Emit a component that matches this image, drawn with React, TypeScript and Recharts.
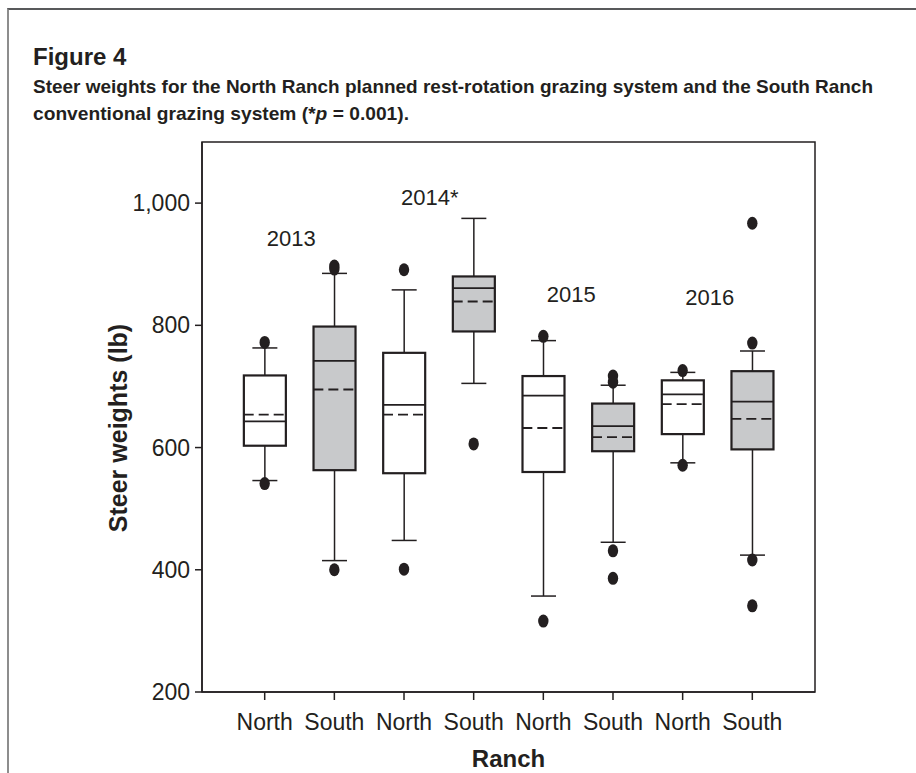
import React from 'react';
import { ComposedChart, Bar, Scatter, XAxis, YAxis, ReferenceArea, Label } from 'recharts';

// ticks / groups
const ranchTicks = ['North', 'South', 'North', 'South', 'North', 'South', 'North', 'South'];
const years = ['2013', '2014*', '2015', '2016'];
const yTicks = [200, 400, 600, 800, 1000];

// box statistics per box, lb
const whiskerLow = [546, 415, 448, 705, 357, 445, 575, 424];
const q1 = [603, 563, 558, 790, 560, 594, 622, 597];
const medians = [643, 742, 670, 861, 685, 635, 687, 675];
const means = [654, 695, 654, 839, 632, 617, 671, 647];
const q3 = [718, 798, 755, 880, 717, 672, 710, 725];
const whiskerHigh = [763, 885, 858, 975, 775, 702, 723, 758];
const outliers = [
  [772, 541],
  [897, 892, 400],
  [891, 401],
  [606],
  [782, 316],
  [717, 707, 431, 386],
  [726, 571],
  [967, 771, 416, 341],
];

// where the year captions sit, in data units
const yearLabelX = [1.38, 3.37, 5.4, 7.39];
const yearLabelY = [942, 1009, 850, 846];

const INK = '#231f20';
const FONT = "'Liberation Sans', Arial, sans-serif";
const BOX_W = 42;
const CAP_W = 25;

const rows = ranchTicks.map((r, i) => ({
  x: i + 1,
  ranch: r,
  south: r === 'South',
  base: whiskerLow[i],
  lowW: q1[i] - whiskerLow[i],
  box: q3[i] - q1[i],
  highW: whiskerHigh[i] - q3[i],
  median: medians[i],
  mean: means[i],
}));

const outlierPoints = outliers.flatMap((vals, i) => vals.map((w) => ({ x: i + 1, w })));
const yearPoints = years.map((t, i) => ({ x: yearLabelX[i], y: yearLabelY[i], t }));

const Empty = () => <g />;

function LowWhisker(p: any) {
  const cx = p.x + p.width / 2;
  const yb = p.y + p.height;
  return (
    <g stroke={INK} strokeWidth={1.5}>
      <line x1={cx} x2={cx} y1={p.y} y2={yb} />
      <line x1={cx - CAP_W / 2} x2={cx + CAP_W / 2} y1={yb} y2={yb} />
    </g>
  );
}

function HighWhisker(p: any) {
  const cx = p.x + p.width / 2;
  return (
    <g stroke={INK} strokeWidth={1.5}>
      <line x1={cx} x2={cx} y1={p.y} y2={p.y + p.height} />
      <line x1={cx - CAP_W / 2} x2={cx + CAP_W / 2} y1={p.y} y2={p.y} />
    </g>
  );
}

function BoxShape(p: any) {
  return (
    <rect
      x={p.x}
      y={p.y}
      width={p.width}
      height={p.height}
      fill={p.payload.south ? '#c8c9cb' : '#ffffff'}
      stroke={INK}
      strokeWidth={2.2}
    />
  );
}

const MedianLine = (p: any) => (
  <line x1={p.cx - BOX_W / 2} x2={p.cx + BOX_W / 2} y1={p.cy} y2={p.cy} stroke={INK} strokeWidth={1.8} />
);
const MeanLine = (p: any) => (
  <line
    x1={p.cx - BOX_W / 2}
    x2={p.cx + BOX_W / 2}
    y1={p.cy}
    y2={p.cy}
    stroke={INK}
    strokeWidth={1.8}
    strokeDasharray="10 5"
  />
);
const OutlierDot = (p: any) => <ellipse cx={p.cx} cy={p.cy} rx={5.2} ry={6.5} fill={INK} />;
const YearText = (p: any) => (
  <text x={p.cx} y={p.cy} textAnchor="middle" dominantBaseline="central" fontSize={22} fill={INK} fontFamily={FONT}>
    {p.payload.t}
  </text>
);

export default function App() {
  return (
    <div style={{ position: 'absolute', left: 0, top: 0, width: 916, height: 773, overflow: 'hidden', background: '#fff' }}>
      <div
        style={{
          position: 'absolute',
          left: 7,
          top: 8,
          width: 930,
          height: 800,
          borderTop: '2px solid #58595b',
          borderLeft: '2px solid #8d8d8d',
        }}
      />
      <svg width={916} height={135} style={{ position: 'absolute', left: 0, top: 0 }}>
        <text x={33} y={65} fontSize={24} fontWeight={700} fill={INK} fontFamily={FONT}>
          Figure 4
        </text>
        <text
          x={33}
          y={93}
          fontSize={19}
          fontWeight={700}
          fill={INK}
          fontFamily={FONT}
          textLength={840}
          lengthAdjust="spacingAndGlyphs"
        >
          Steer weights for the North Ranch planned rest-rotation grazing system and the South Ranch
        </text>
        <text
          x={33}
          y={120}
          fontSize={19}
          fontWeight={700}
          fill={INK}
          fontFamily={FONT}
          textLength={376}
          lengthAdjust="spacingAndGlyphs"
        >
          conventional grazing system (*<tspan fontStyle="italic">p</tspan> = 0.001).
        </text>
      </svg>
      <div style={{ position: 'absolute', left: 0, top: 0 }}>
        <ComposedChart width={916} height={773} data={rows} margin={{ top: 142, right: 101, bottom: 21, left: 122 }}>
          <XAxis
            type="number"
            dataKey="x"
            domain={[0.1, 8.9]}
            ticks={[1, 2, 3, 4, 5, 6, 7, 8]}
            interval={0}
            allowDataOverflow
            height={60}
            tickFormatter={(v: number) => ranchTicks[v - 1]}
            tick={{ fontSize: 23, fill: INK, fontFamily: FONT }}
            tickSize={8}
            tickMargin={14}
            stroke={INK}
            strokeWidth={1.5}
          >
            <Label
              content={(p: any) => {
                const vb = p.viewBox || { x: 202, y: 692, width: 613 };
                return (
                  <text
                    x={vb.x + vb.width / 2}
                    y={vb.y + 75}
                    textAnchor="middle"
                    fontSize={24}
                    fontWeight={700}
                    fill={INK}
                    fontFamily={FONT}
                  >
                    Ranch
                  </text>
                );
              }}
            />
          </XAxis>
          <XAxis xAxisId="lbl" type="number" dataKey="x" domain={[0.1, 8.9]} allowDataOverflow hide />
          <YAxis
            type="number"
            domain={[200, 1100]}
            ticks={yTicks}
            interval={0}
            allowDataOverflow
            width={80}
            tickFormatter={(v: number) => v.toLocaleString('en-US')}
            tick={{ fontSize: 23, fill: INK, fontFamily: FONT }}
            tickSize={7}
            tickMargin={5}
            stroke={INK}
            strokeWidth={1.5}
          >
            <Label
              content={(p: any) => {
                const vb = p.viewBox || { x: 122, y: 142, height: 550 };
                const cx = vb.x - 4;
                const cy = vb.y + vb.height / 2 + 11;
                return (
                  <text
                    x={cx}
                    y={cy}
                    transform={`rotate(-90 ${cx} ${cy})`}
                    textAnchor="middle"
                    dominantBaseline="central"
                    fontSize={25}
                    fontWeight={700}
                    fill={INK}
                    fontFamily={FONT}
                  >
                    Steer weights (lb)
                  </text>
                );
              }}
            />
          </YAxis>
          <ReferenceArea x1={0.1} x2={8.9} y1={200} y2={1100} fill="none" stroke={INK} strokeWidth={1.5} />
          <Bar dataKey="base" stackId="s" barSize={BOX_W} shape={Empty} isAnimationActive={false} />
          <Bar dataKey="lowW" stackId="s" barSize={BOX_W} shape={LowWhisker} isAnimationActive={false} />
          <Bar dataKey="box" stackId="s" barSize={BOX_W} shape={BoxShape} isAnimationActive={false} />
          <Bar dataKey="highW" stackId="s" barSize={BOX_W} shape={HighWhisker} isAnimationActive={false} />
          <Scatter dataKey="median" shape={MedianLine} isAnimationActive={false} />
          <Scatter dataKey="mean" shape={MeanLine} isAnimationActive={false} />
          <Scatter data={outlierPoints} dataKey="w" shape={OutlierDot} isAnimationActive={false} />
          <Scatter xAxisId="lbl" data={yearPoints} dataKey="y" shape={YearText} isAnimationActive={false} />
        </ComposedChart>
      </div>
    </div>
  );
}
